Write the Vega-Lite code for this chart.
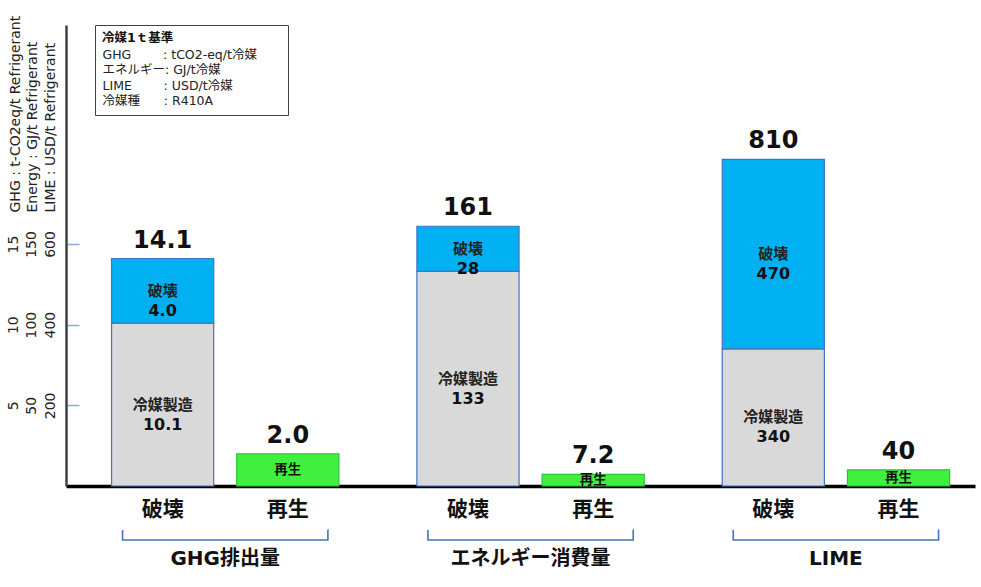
{
  "$schema": "https://vega.github.io/schema/vega-lite/v6.json",
  "width": 909,
  "height": 461,
  "autosize": "none",
  "padding": {"left": 66, "top": 25, "right": 6, "bottom": 101},
  "background": "white",
  "config": {
    "view": {"stroke": null},
    "font": "DejaVu Sans, Noto Sans CJK JP"
  },
  "datasets": {
    "lca": [
      {"group": "GHG排出量", "bar": "破壊", "part": "冷媒製造", "value": 10.1},
      {"group": "GHG排出量", "bar": "破壊", "part": "破壊", "value": 4.0},
      {"group": "GHG排出量", "bar": "再生", "part": "再生", "value": 2.0},
      {"group": "エネルギー消費量", "bar": "破壊", "part": "冷媒製造", "value": 133},
      {"group": "エネルギー消費量", "bar": "破壊", "part": "破壊", "value": 28},
      {"group": "エネルギー消費量", "bar": "再生", "part": "再生", "value": 7.2},
      {"group": "LIME", "bar": "破壊", "part": "冷媒製造", "value": 340},
      {"group": "LIME", "bar": "破壊", "part": "破壊", "value": 470},
      {"group": "LIME", "bar": "再生", "part": "再生", "value": 40}
    ],
    "note": [
      {"line": "GHG\u00a0\u00a0\u00a0\u00a0\u00a0\u00a0\u00a0\u00a0: tCO2-eq/t冷媒\u00a0\u00a0\u00a0\u00a0\u00a0\u00a0\u200b"},
      {"line": "エネルギー: GJ/t冷媒"},
      {"line": "LIME\u00a0\u00a0\u00a0\u00a0\u00a0\u00a0\u00a0\u00a0: USD/t冷媒"},
      {"line": "冷媒種\u00a0\u00a0\u00a0\u00a0\u00a0\u00a0: R410A"}
    ]
  },
  "layer": [
    {
      "data": {"name": "lca"},
      "transform": [
        {"calculate": "datum.value / (datum.group == 'LIME' ? 600 : datum.group == 'GHG排出量' ? 15 : 150)", "as": "norm"},
        {"stack": "norm", "groupby": ["group", "bar"], "sort": [{"field": "part", "order": "ascending"}], "as": ["y0", "y1"]},
        {"calculate": "(datum.y0 + datum.y1) / 2", "as": "mid"},
        {"calculate": "format(datum.value, datum.group == 'GHG排出量' || datum.value < 10 ? '.1f' : '.0f')", "as": "label"}
      ],
      "layer": [
        {
          "mark": {"type": "bar", "strokeWidth": 1.2},
          "encoding": {
            "x": {
              "field": "group",
              "type": "nominal",
              "scale": {
                "domain": ["GHG排出量", "エネルギー消費量", "LIME"],
                "paddingInner": 0.18,
                "paddingOuter": 0.0785,
                "align": 0.71
              },
              "axis": {
                "title": null,
                "ticks": false,
                "domainColor": "black",
                "domainWidth": 3.5,
                "labelAngle": 0,
                "labelFont": "DejaVu Sans, Noto Sans CJK JP",
                "labelFontSize": 20,
                "labelFontWeight": "bold",
                "labelColor": "#111",
                "labelBaseline": "middle",
                "labelPadding": 72
              }
            },
            "xOffset": {
              "field": "bar",
              "type": "nominal",
              "scale": {"domain": ["破壊", "再生"], "paddingInner": 0.184, "paddingOuter": 0.092}
            },
            "y": {
              "field": "y1",
              "type": "quantitative",
              "scale": {"domain": [0, 1.905], "nice": false},
              "axis": {
                "values": [0.3333333, 0.6666667, 1],
                "labelExpr": "datum.value < 0.5 ? ['5', '50', '200'] : datum.value < 0.8 ? ['10', '100', '400'] : ['15', '150', '600']",
                "labelAngle": 270,
                "labelAlign": "center",
                "labelBaseline": "bottom",
                "labelLineHeight": 18.5,
                "labelFont": "DejaVu Sans",
                "labelFontSize": 14,
                "labelColor": "#222",
                "labelOverlap": false,
                "labelPadding": 59,
                "tickSize": -13,
                "tickColor": "#8FAADC",
                "tickWidth": 1.5,
                "domainColor": "#404040",
                "domainWidth": 2.5,
                "grid": false,
                "title": ["GHG : t-CO2eq/t Refrigerant", "Energy : GJ/t Refrigerant", "LIME : USD/t Refrigerant"],
                "titleAngle": 270,
                "titleAlign": "left",
                "titleBaseline": "bottom",
                "titleX": -44,
                "titleY": 187,
                "titleFont": "DejaVu Sans",
                "titleFontSize": 14,
                "titleFontWeight": "normal",
                "titleLineHeight": 17.5,
                "titleColor": "#222"
              }
            },
            "y2": {"field": "y0"},
            "color": {
              "field": "part",
              "type": "nominal",
              "scale": {"domain": ["冷媒製造", "破壊", "再生"], "range": ["#D9D9D9", "#00B0F0", "#3FF03F"]},
              "legend": null
            },
            "stroke": {
              "field": "part",
              "type": "nominal",
              "scale": {"domain": ["冷媒製造", "破壊", "再生"], "range": ["#4472C4", "#4472C4", "#2FBF3A"]},
              "legend": null
            }
          }
        },
        {
          "transform": [{"filter": "datum.bar == '破壊'"}],
          "mark": {"type": "text", "fontSize": 15, "fontWeight": "bold", "baseline": "middle", "color": "#222", "font": "Noto Sans CJK JP"},
          "encoding": {
            "x": {"field": "group", "type": "nominal"},
            "xOffset": {"field": "bar", "type": "nominal"},
            "y": {"field": "mid", "type": "quantitative"},
            "text": {"field": "part"}
          }
        },
        {
          "transform": [{"filter": "datum.bar == '破壊'"}],
          "mark": {"type": "text", "fontSize": 16, "fontWeight": "bold", "baseline": "middle", "dy": 20, "color": "#111", "font": "DejaVu Sans"},
          "encoding": {
            "x": {"field": "group", "type": "nominal"},
            "xOffset": {"field": "bar", "type": "nominal"},
            "y": {"field": "mid", "type": "quantitative"},
            "text": {"field": "label"}
          }
        },
        {
          "transform": [{"filter": "datum.bar == '再生'"}],
          "mark": {"type": "text", "fontSize": 13.5, "fontWeight": "bold", "baseline": "middle", "color": "#111", "font": "Noto Sans CJK JP"},
          "encoding": {
            "x": {"field": "group", "type": "nominal"},
            "xOffset": {"field": "bar", "type": "nominal"},
            "y": {"field": "mid", "type": "quantitative"},
            "text": {"field": "part"}
          }
        },
        {
          "transform": [
            {"aggregate": [{"op": "sum", "field": "value", "as": "total"}, {"op": "max", "field": "y1", "as": "top"}], "groupby": ["group", "bar"]},
            {"calculate": "format(datum.total, datum.group == 'GHG排出量' || datum.total < 10 ? '.1f' : '.0f')", "as": "tlabel"}
          ],
          "layer": [
            {
              "mark": {"type": "text", "fontSize": 24, "fontWeight": "bold", "baseline": "middle", "dy": -18, "color": "#111", "font": "DejaVu Sans"},
              "encoding": {
                "x": {"field": "group", "type": "nominal"},
                "xOffset": {"field": "bar", "type": "nominal"},
                "y": {"field": "top", "type": "quantitative"},
                "text": {"field": "tlabel"}
              }
            },
            {
              "mark": {"type": "text", "fontSize": 21, "fontWeight": "bold", "baseline": "middle", "dy": 24, "color": "#111", "font": "Noto Sans CJK JP"},
              "encoding": {
                "x": {"field": "group", "type": "nominal"},
                "xOffset": {"field": "bar", "type": "nominal"},
                "y": {"datum": 0, "type": "quantitative"},
                "text": {"field": "bar"}
              }
            }
          ]
        },
        {
          "transform": [{"filter": "datum.part == '破壊'"}],
          "mark": {
            "type": "bar",
            "width": {"band": 0.82},
            "fill": "transparent",
            "stroke": "#4472C4",
            "strokeWidth": 1.6,
            "strokeDash": [0, 205, 230]
          },
          "encoding": {
            "x": {"field": "group", "type": "nominal"},
            "y": {"datum": -0.182, "type": "quantitative"},
            "y2": {"datum": -0.223}
          }
        }
      ]
    },
    {
      "data": {"name": "note"},
      "mark": {"type": "point", "opacity": 0, "size": 0},
      "encoding": {
        "shape": {
          "field": "line",
          "type": "nominal",
          "sort": null,
          "legend": {
            "title": "冷媒1ｔ基準",
            "orient": "none",
            "legendX": 29,
            "legendY": 0,
            "direction": "vertical",
            "strokeColor": "#404040",
            "fillColor": "white",
            "padding": 7,
            "symbolSize": 0,
            "symbolOpacity": 0,
            "symbolStrokeWidth": 0,
            "labelOffset": -12,
            "labelFont": "DejaVu Sans, Noto Sans CJK JP",
            "labelFontSize": 12.5,
            "labelColor": "#222",
            "labelLimit": 400,
            "rowPadding": 2.5,
            "titleFont": "DejaVu Sans, Noto Sans CJK JP",
            "titleFontSize": 12.5,
            "titleFontWeight": "bold",
            "titleColor": "#111",
            "titlePadding": 4
          }
        }
      }
    }
  ]
}
